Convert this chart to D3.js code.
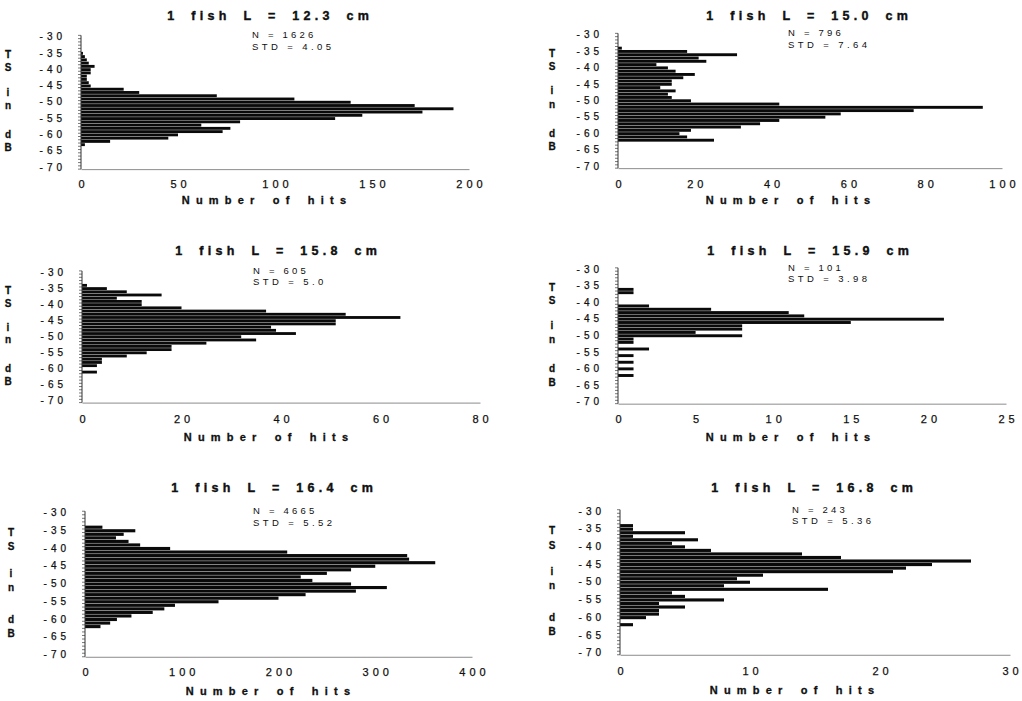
<!DOCTYPE html>
<html><head><meta charset="utf-8">
<script src="https://cdn.jsdelivr.net/npm/d3@7"></script>
<style>
html,body{margin:0;padding:0;background:#fff;}
svg{display:block;font-family:"Liberation Sans",Arial,sans-serif;}
</style></head><body>
<svg id="chart" width="1022" height="701"></svg>
<script>
// TS bins (dB), top to bottom
const tsBins = [-30,-31,-32,-33,-34,-35,-36,-37,-38,-39,-40,-41,-42,-43,-44,-45,-46,-47,-48,-49,-50,
                -51,-52,-53,-54,-55,-56,-57,-58,-59,-60,-61,-62,-63,-64,-65,-66,-67,-68,-69,-70];
const yTickLabels = [-30,-35,-40,-45,-50,-55,-60,-65,-70];

// Number of hits per 1 dB bin, one array per fish
const hits123 = [0,0,0,0,0, 1,2,3,4,7,5,5,3,3,4,5, 22,30,70,110,139,172,192,176,145,131,82,62,77,73,50,45,15,2, 0,0,0,0,0,0,0];
const hits150 = [0,0,0,0, 1,18,31,21,23,10,13,15,20,17,14,14,11,15,13,14,19,42,95,77,58,54,42,37,32,19,16,18,25, 0,0,0,0,0,0,0,0];
const hits158 = [0,0,0,0, 1,5,9,16,7,12,12,20,37,53,64,51,51,38,39,43,32,35,25,18,18,13,9,4,4,3,0,3, 0,0,0,0,0,0,0,0,0];
const hits159 = [0,0,0,0,0,0, 1,1, 0,0,0, 2,6,11,12,21,15,8,8,5,8, 1,1,0,2,0,1,0,1,0,1,0,1, 0,0,0,0,0,0,0,0];
const hits164 = [0,0,0,0, 18,52,40,32,45,57,88,209,333,335,362,300,275,250,223,235,275,312,280,228,200,138,93,82,70,48,33,26,16, 0,0,0,0,0,0,0,0];
const hits168 = [0,0,0,0, 1,1,5,1,6,4,5,7,14,17,27,24,22,21,11,9,10,8,16,4,5,8,3,5,3,3,2,0,1, 0,0,0,0,0,0,0,0];

const titles = ["1 fish L = 12.3 cm","1 fish L = 15.0 cm","1 fish L = 15.8 cm","1 fish L = 15.9 cm","1 fish L = 16.4 cm","1 fish L = 16.8 cm"];
const nLabels = ["N = 1626","N = 796","N = 605","N = 101","N = 4665","N = 243"];
const stdLabels = ["STD = 4.05","STD = 7.64","STD = 5.0","STD = 3.98","STD = 5.52","STD = 5.36"];
const xMaxes = [200,100,80,25,400,30];
const xTicks = [[0,50,100,150,200],[0,20,40,60,80,100],[0,20,40,60,80],[0,5,10,15,20,25],[0,100,200,300,400],[0,10,20,30]];
const yTitleLetters = ["T","S","i","n","d","B"];
const yTitleAt = [-35.5,-39.5,-47,-51,-60,-64];
const xTitle = "Number of hits";

const series = [hits123,hits150,hits158,hits159,hits164,hits168];

// layout (pixels)
const layout = [
  {x0:81, x1:469, yA:37,    yB:167.5, tX:268, tY:16,  nX:252, lX:8,   tickY:184, axX:264, axY:200},
  {x0:618,x1:1002,yA:35,    yB:166.5, tX:807, tY:16,  nX:788, lX:552, tickY:184, axX:788, axY:200},
  {x0:82, x1:480, yA:272.5, yB:401,   tX:276, tY:251, nX:253, lX:8,   tickY:419, axX:266, axY:437},
  {x0:618,x1:1006,yA:269.5, yB:402,   tX:808, tY:251, nX:788, lX:552, tickY:419, axX:788, axY:437},
  {x0:85, x1:472, yA:513,   yB:655,   tX:272, tY:488, nX:253, lX:11,  tickY:672, axX:268, axY:691},
  {x0:620,x1:1010,yA:511.5, yB:653,   tX:812, tY:488, nX:792, lX:552, tickY:671, axX:792, axY:690}
];

const svg = d3.select("#chart");
const PAD = 0.12;
const ink = "#101010";

series.forEach((vals, k) => {
  const L = layout[k];
  const step = (L.yB - L.yA) / (tsBins.length - 1);
  const top = L.yA - step/2, bottom = L.yB + step/2;
  const y = d3.scaleBand().domain(tsBins).range([top, bottom]).paddingInner(PAD).paddingOuter(PAD/2);
  const yLin = d3.scaleLinear().domain([-30,-70]).range([L.yA, L.yB]);
  const x = d3.scaleLinear().domain([0, xMaxes[k]]).range([L.x0, L.x1]);
  const g = svg.append("g");

  // bars
  g.append("g").selectAll("rect").data(tsBins.map((b,i)=>({b, v: vals[i]})).filter(d=>d.v>0))
    .join("rect")
    .attr("x", x(0)).attr("y", d=>y(d.b))
    .attr("width", d=>x(d.v)-x(0)).attr("height", y.bandwidth())
    .attr("fill", "#0a0a0a");

  // x axis
  const fsX = 11, lsX = 4;
  const xAxis = g.append("g").attr("transform", `translate(0,${bottom})`)
    .call(d3.axisBottom(x).tickValues(xTicks[k]).tickSize(0).tickPadding(L.tickY - bottom - 0.36*fsX));
  xAxis.select(".domain").attr("stroke", "#8c8c8c").attr("stroke-width", 1);
  xAxis.selectAll("text").attr("font-size", fsX).attr("letter-spacing", lsX).attr("dx", lsX/2)
    .attr("fill", ink).attr("stroke", ink).attr("stroke-width", 0.25);

  // y axis labels
  const fsY = 10, lsY = 4;
  const yAxis = g.append("g").attr("transform", `translate(${L.x0},0)`)
    .call(d3.axisLeft(y).tickValues(yTickLabels).tickSize(0).tickPadding(19 - lsY));
  yAxis.select(".domain").remove();
  yAxis.selectAll("text").attr("font-size", fsY).attr("letter-spacing", lsY)
    .attr("fill", ink).attr("stroke", ink).attr("stroke-width", 0.25);

  // y axis line with category tick marks
  const bounds = tsBins.map(b => y(b) - y.step()*PAD/2).concat([bottom]);
  g.append("g").selectAll("line").data(bounds).join("line")
    .attr("x1", L.x0 - 3).attr("x2", L.x0).attr("y1", d=>d).attr("y2", d=>d)
    .attr("stroke", "#555").attr("stroke-width", 0.8);
  g.append("line").attr("x1", L.x0).attr("x2", L.x0).attr("y1", top).attr("y2", bottom)
    .attr("stroke", "#333").attr("stroke-width", 1);

  // title
  g.append("text").attr("x", L.tX).attr("y", L.tY).attr("dy", "0.35em").attr("dx", 2.25)
    .attr("text-anchor", "middle").attr("font-size", 12.5).attr("font-weight", 700)
    .attr("letter-spacing", 4.3).attr("word-spacing", 5).attr("fill", ink)
    .attr("stroke", ink).attr("stroke-width", 0.4).text(titles[k]);

  // N / STD
  g.append("text").attr("x", L.nX).attr("y", L.yA - 2).attr("dy", "0.35em")
    .attr("font-size", 9.5).attr("letter-spacing", 3.2).attr("fill", ink).text(nLabels[k]);
  g.append("text").attr("x", L.nX).attr("y", L.yA + 9.5).attr("dy", "0.35em")
    .attr("font-size", 9.5).attr("letter-spacing", 3.4).attr("fill", ink).text(stdLabels[k]);

  // y title (stacked letters)
  g.append("g").selectAll("text").data(yTitleLetters).join("text")
    .attr("x", L.lX).attr("y", (d,i)=>yLin(yTitleAt[i])).attr("dy", "0.35em")
    .attr("text-anchor", "middle").attr("font-size", 10).attr("font-weight", 700)
    .attr("fill", ink).attr("stroke", ink).attr("stroke-width", 0.3).text(d=>d);

  // x title
  g.append("text").attr("x", L.axX).attr("y", L.axY).attr("dy", "0.35em").attr("dx", 3)
    .attr("text-anchor", "middle").attr("font-size", 11).attr("font-weight", 700)
    .attr("letter-spacing", 6.2).attr("word-spacing", 3).attr("fill", ink)
    .attr("stroke", ink).attr("stroke-width", 0.3).text(xTitle);
});
</script>
</body></html>
